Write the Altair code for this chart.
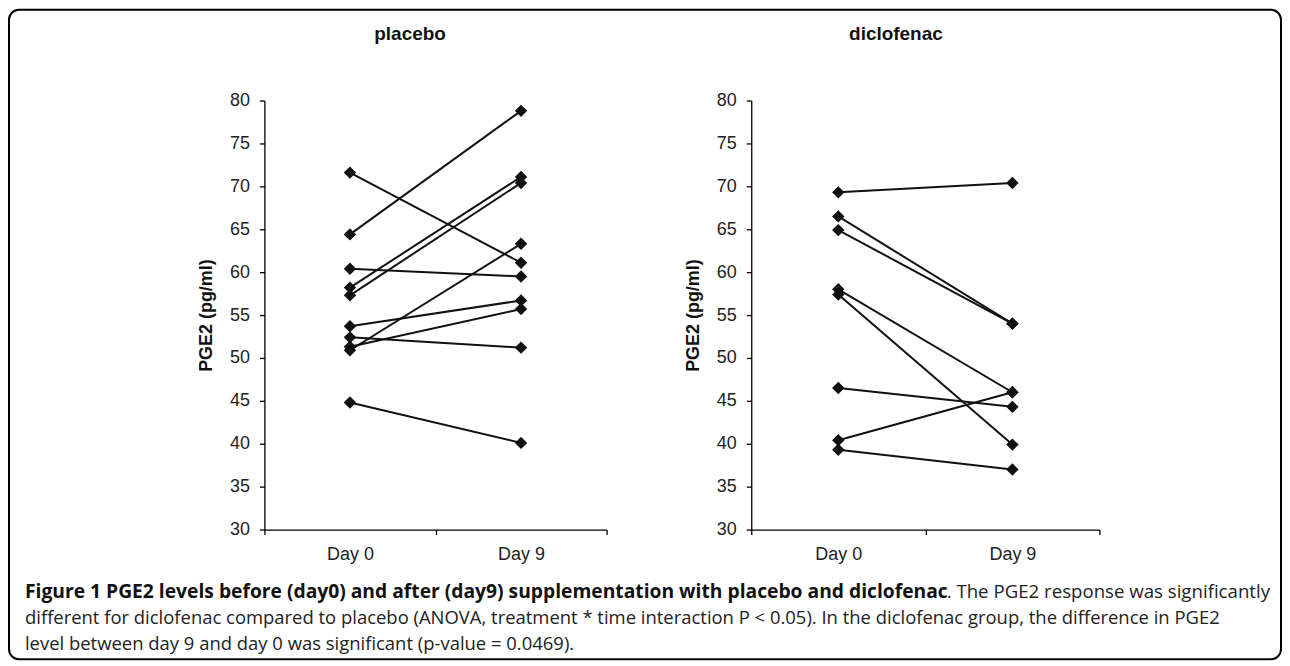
import altair as alt
import pandas as pd

# ---------------- data ----------------
days = ["Day 0", "Day 9"]
placebo_day0 = [71.6, 64.4, 60.4, 58.2, 57.3, 53.7, 52.4, 51.3, 50.9, 44.8]
placebo_day9 = [61.1, 78.8, 59.5, 71.1, 70.4, 56.7, 51.2, 55.7, 63.3, 40.1]
diclo_day0 = [69.3, 66.5, 64.9, 58.0, 57.4, 46.5, 40.4, 39.3]
diclo_day9 = [70.4, 54.0, 54.0, 46.0, 39.9, 44.3, 46.0, 37.0]
y_ticks = [30, 35, 40, 45, 50, 55, 60, 65, 70, 75, 80]
y_domain = [30, 80]
panel_titles = ["placebo", "diclofenac"]
y_title = "PGE2 (pg/ml)"
caption_bold = ["Figure 1 PGE2 levels before (day0) and after (day9) supplementation with placebo and diclofenac"]
caption_rest1 = [". The PGE2 response was significantly"]
caption_line2 = ["different for diclofenac compared to placebo (ANOVA, treatment * time interaction P < 0.05). In the diclofenac group, the difference in PGE2"]
caption_line3 = ["level between day 9 and day 0 was significant (p-value = 0.0469)."]

# ---------------- layout (pixels inside the view) ----------------
W, H = 1275, 651
Y_RANGE = [521, 91]
X_AXIS_OFFSET = -(H - 521)
LEFT_X_RANGE = [256, 599]
RIGHT_X_RANGE = [744, 1093]
AXIS_FONT = "Liberation Sans"
CAP_FONT = "Open Sans"
INK = "#111111"


def to_long(d0, d9):
    rows = []
    for i, (a, b) in enumerate(zip(d0, d9)):
        rows.append({"subject": i, "day": days[0], "value": a})
        rows.append({"subject": i, "day": days[1], "value": b})
    return pd.DataFrame(rows)


def panel(df, x_range, y_offset):
    x = alt.X(
        "day:N",
        sort=days,
        scale=alt.Scale(type="band", domain=days, range=x_range, paddingInner=0, paddingOuter=0),
        axis=alt.Axis(
            title=None, orient="bottom", offset=X_AXIS_OFFSET, tickBand="extent",
            labelAngle=0, labelFont=AXIS_FONT, labelFontSize=18, labelColor="#222222",
            labelPadding=11, tickSize=5, tickColor="#000000", domainColor="#000000",
            tickWidth=1.3, domainWidth=1.3, grid=False,
        ),
    )
    y = alt.Y(
        "value:Q",
        scale=alt.Scale(domain=y_domain, range=Y_RANGE, nice=False, zero=False),
        axis=alt.Axis(
            values=y_ticks, orient="left", offset=y_offset, title=y_title,
            titleFont=AXIS_FONT, titleFontSize=18, titleFontWeight="bold", titleColor="#111111",
            titlePadding=14, labelFont=AXIS_FONT, labelFontSize=18, labelColor="#222222",
            labelPadding=10, tickSize=5, tickColor="#000000", domainColor="#000000",
            tickWidth=1.3, domainWidth=1.3, grid=False,
        ),
    )
    base = alt.Chart(df).encode(x=x, y=y, detail="subject:N")
    lines = base.mark_line(color=INK, strokeWidth=2)
    pts = base.mark_point(shape="diamond", filled=True, size=155, color=INK, opacity=1)
    return alt.layer(lines, pts)


left = panel(to_long(placebo_day0, placebo_day9), LEFT_X_RANGE, -LEFT_X_RANGE[0])
right = panel(to_long(diclo_day0, diclo_day9), RIGHT_X_RANGE, -RIGHT_X_RANGE[0])


def text_layer(values, x, y, align="left", weight="normal", size=18, font=CAP_FONT, color="#222222"):
    return alt.Chart(pd.DataFrame({"t": values})).mark_text(
        align=align, baseline="middle", font=font, fontSize=size, fontWeight=weight, color=color
    ).encode(text="t:N", x=alt.value(x), y=alt.value(y))


titles = alt.layer(
    text_layer([panel_titles[0]], 402, 24, align="center", weight="bold", size=19, font=AXIS_FONT, color="#111111"),
    text_layer([panel_titles[1]], 889, 24, align="center", weight="bold", size=19, font=AXIS_FONT, color="#111111"),
)

caption = alt.layer(
    text_layer(caption_bold, 16, 584, weight="bold", size=19.3, color="#111111"),
    text_layer(caption_rest1, 1264, 584, align="right", size=18.7),
    text_layer(caption_line2, 16, 610, size=18.5),
    text_layer(caption_line3, 16, 636, size=18.5),
)

chart = (
    alt.layer(left, right, titles, caption)
    .resolve_scale(x="independent", y="independent")
    .resolve_axis(x="independent", y="independent")
    .properties(
        width=W, height=H,
        autosize=alt.AutoSizeParams(type="none"),
        padding={"left": 1, "top": 1, "right": 1, "bottom": 1},
    )
    .configure(background="white")
    .configure_view(stroke="#000000", strokeWidth=2, cornerRadius=10)
)

chart.save("out.html", embed_options={"renderer": "svg", "actions": False})
